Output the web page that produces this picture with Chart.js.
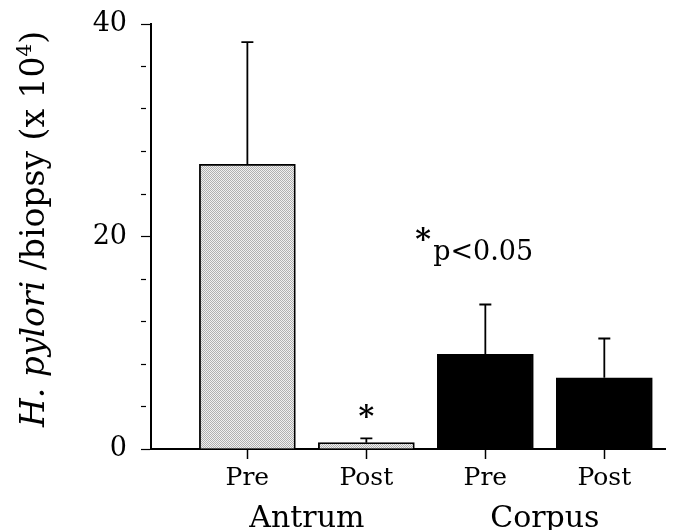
<!DOCTYPE html>
<html>
<head>
<meta charset="utf-8">
<script src="https://cdn.jsdelivr.net/npm/chart.js@4/dist/chart.umd.min.js"></script>
<style>
  html, body { margin: 0; padding: 0; background: #fff; }
  #wrap { width: 679px; height: 530px; }
</style>
</head>
<body>
<div id="wrap"><canvas id="hpChart"></canvas></div>
<script>
// data
const categories = ['Pre', 'Post', 'Pre', 'Post'];
const positions = [1, 2, 3, 4];
const groups = ['Antrum', 'Corpus'];
const groupPositions = [1.5, 3.5];
const means = [26.8, 0.6, 8.9, 6.7];
const errors = [11.5, 0.4, 4.7, 3.7];
const significant = [false, true, false, false];
const yTickLabels = [0, 20, 40];

const serif = '"DejaVu Serif", "Liberation Serif", serif';

// stippled grey like the printed antrum bars
function stipple() {
    const c = document.createElement('canvas');
    c.width = 2; c.height = 2;
    const g = c.getContext('2d');
    g.fillStyle = '#f0f0f0';
    g.fillRect(0, 0, 2, 2);
    g.fillStyle = '#b0b0b0';
    g.fillRect(0, 0, 1, 1);
    g.fillRect(1, 1, 1, 1);
    return g.createPattern(c, 'repeat');
}
const grey = stipple();

const errorBars = {
    id: 'errorBars',
    afterDatasetsDraw(chart) {
        const { ctx, scales: { x, y } } = chart;
        ctx.save();
        ctx.strokeStyle = '#000';
        ctx.lineWidth = 1.8;
        positions.forEach((p, i) => {
            const px = x.getPixelForValue(p);
            const y0 = y.getPixelForValue(means[i]);
            const y1 = y.getPixelForValue(means[i] + errors[i]);
            ctx.beginPath();
            ctx.moveTo(px, y0);
            ctx.lineTo(px, y1);
            ctx.moveTo(px - 6, y1);
            ctx.lineTo(px + 6, y1);
            ctx.stroke();
            if (significant[i]) {
                ctx.fillStyle = '#000';
                ctx.font = 'bold 30px ' + serif;
                ctx.textAlign = 'center';
                ctx.textBaseline = 'alphabetic';
                ctx.fillText('*', px, y1 - 12);
            }
        });
        // footnote
        ctx.fillStyle = '#000';
        ctx.textAlign = 'left';
        ctx.font = 'bold 30px ' + serif;
        const nx = x.getPixelForValue(2.41);
        const ny = y.getPixelForValue(18.5);
        ctx.fillText('*', nx, ny - 3);
        ctx.font = '27px ' + serif;
        ctx.fillText('p<0.05', nx + 18, ny + 8);
        ctx.restore();
    }
};

const yTitle = {
    id: 'yTitle',
    afterDraw(chart) {
        const { ctx } = chart;
        const parts = [
            { t: 'H. pylori', f: 'italic 33px ' + serif, dy: 0 },
            { t: ' /biopsy (x 10', f: '33px ' + serif, dy: 0 },
            { t: '4', f: '20px ' + serif, dy: -13 },
            { t: ')', f: '33px ' + serif, dy: 0 }
        ];
        ctx.save();
        let total = 0;
        parts.forEach(p => { ctx.font = p.f; p.w = ctx.measureText(p.t).width; total += p.w; });
        ctx.translate(44, 229);
        ctx.rotate(-Math.PI / 2);
        ctx.fillStyle = '#000';
        ctx.textBaseline = 'alphabetic';
        ctx.textAlign = 'left';
        let cx = -total / 2;
        parts.forEach(p => {
            ctx.font = p.f;
            ctx.fillText(p.t, cx, p.dy);
            cx += p.w;
        });
        ctx.restore();
    }
};

new Chart(document.getElementById('hpChart'), {
    type: 'bar',
    data: {
        datasets: [{
            data: positions.map((p, i) => ({ x: p, y: means[i] })),
            backgroundColor: [grey, grey, '#000', '#000'],
            borderColor: '#000',
            borderWidth: 1.8,
            borderSkipped: 'bottom',
            barThickness: 96
        }]
    },
    options: {
        responsive: true,
        maintainAspectRatio: false,
        animation: false,
        layout: { padding: { left: 93, right: 14, top: 24, bottom: 0 } },
        plugins: {
            legend: { display: false },
            tooltip: { enabled: false }
        },
        scales: {
            x: {
                type: 'linear',
                min: 0.19,
                max: 4.51,
                offset: false,
                weight: 1,
                afterFit: s => { s.height = 44; },
                afterBuildTicks: s => { s.ticks = positions.map(v => ({ value: v })); },
                ticks: {
                    autoSkip: false,
                    maxRotation: 0,
                    padding: 4,
                    color: '#000',
                    font: { family: serif, size: 25 },
                    callback: (v) => categories[positions.indexOf(v)] || ''
                },
                grid: { offset: false, drawOnChartArea: false, drawTicks: true, tickLength: 10, tickColor: '#000', tickWidth: 1.5 },
                border: { color: '#000', width: 2 }
            },
            x2: {
                type: 'linear',
                position: 'bottom',
                min: 0.19,
                max: 4.51,
                offset: false,
                weight: 2,
                afterFit: s => { s.height = 37; },
                afterBuildTicks: s => { s.ticks = groupPositions.map(v => ({ value: v })); },
                ticks: {
                    autoSkip: false,
                    maxRotation: 0,
                    padding: 0,
                    color: '#000',
                    font: { family: serif, size: 30 },
                    callback: (v) => groups[groupPositions.indexOf(v)] || ''
                },
                grid: { display: false, offset: false },
                border: { display: false }
            },
            y: {
                min: 0,
                max: 40,
                afterFit: s => { s.width = 58; s.paddingTop = 0; s.paddingBottom = 0; },
                ticks: {
                    stepSize: 4,
                    padding: 14,
                    color: '#000',
                    font: { family: serif, size: 27 },
                    callback: v => yTickLabels.includes(v) ? String(v) : ''
                },
                grid: {
                    drawOnChartArea: false,
                    tickLength: 10,
                    tickColor: '#000',
                    tickWidth: 1.2,
                    tickBorderDash: c => (c.tick && yTickLabels.includes(c.tick.value)) ? [] : [5, 20]
                },
                border: { color: '#000', width: 2 }
            }
        }
    },
    plugins: [errorBars, yTitle]
});
</script>
</body>
</html>
